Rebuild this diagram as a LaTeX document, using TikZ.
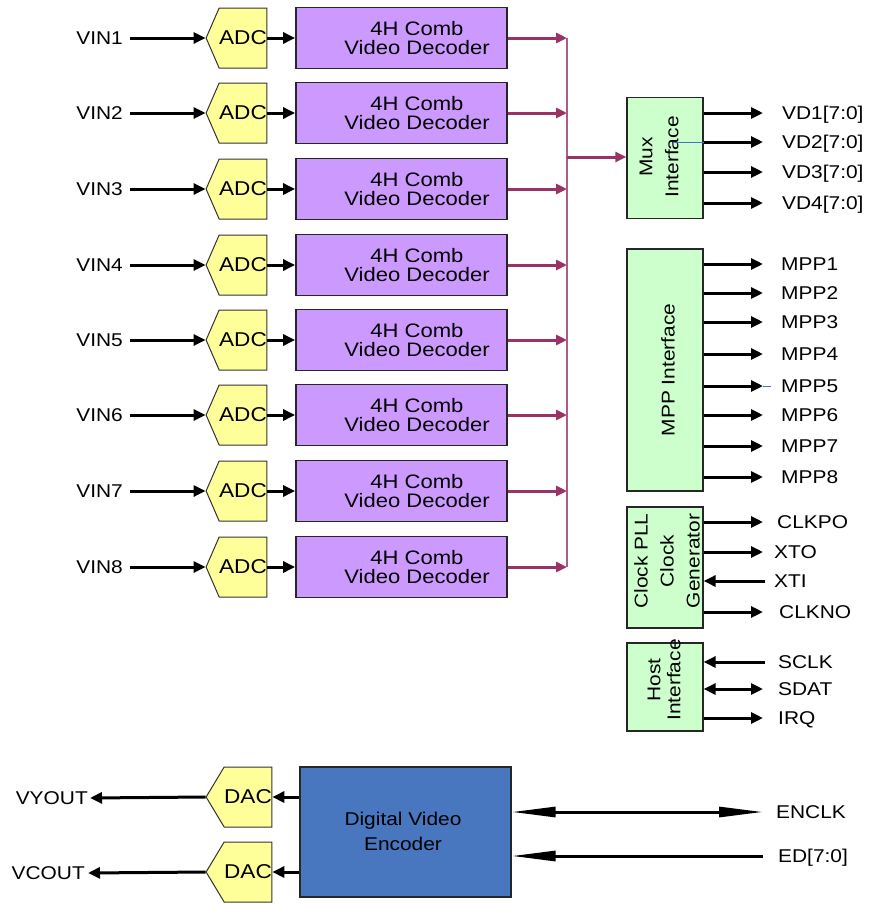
\documentclass[tikz,border=0pt]{standalone}
\usepackage{fontspec}
\setmainfont{Liberation Sans}[FakeStretch=1.13]
\usetikzlibrary{arrows.meta,shapes.symbols}
\definecolor{decpurple}{HTML}{CC99FF}
\definecolor{adcyellow}{HTML}{FFFF99}
\definecolor{ifgreen}{HTML}{CCFFCC}
\definecolor{encblue}{HTML}{4876BF}
\definecolor{mag}{HTML}{993366}
\definecolor{artblue}{HTML}{4472C4}
\begin{document}
\begin{tikzpicture}[x=1pt,y=-1pt,font=\fontsize{18.5}{19}\selectfont,
  tipb/.tip={Triangle[length=12pt,width=11pt]},
  tipl/.tip={Triangle[length=44pt,width=10pt]},
  arr/.style={line width=3pt,-tipb},
  dblarr/.style={line width=3pt,tipb-tipb},
  magarr/.style={draw=mag,line width=3pt,-{Triangle[length=11pt,width=10pt]}},
  magline/.style={draw=mag!80,line width=1.5pt},
  longarr/.style={line width=3pt,-tipl},
  longdbl/.style={line width=3pt,tipl-tipl},
  artline/.style={draw=artblue,line width=0.8pt},
  conv/.style={signal,signal to=west,draw=black!80,line width=1pt,fill=adcyellow,minimum width=59pt,minimum height=60pt,inner sep=0pt,font=\fontsize{20}{20}\selectfont},
  decbox/.style={draw=black!85,line width=1.8pt,fill=decpurple,minimum width=211pt,minimum height=61pt,inner sep=0pt},
  gbox/.style={draw=black!85,line width=1.3pt,fill=ifgreen,inner sep=0pt},
  lbl/.style={anchor=west,inner ysep=0pt,text height=13.3pt,text depth=0pt},
  lbll/.style={anchor=east,inner ysep=0pt,text height=13.3pt,text depth=0pt},
  rottext/.style={rotate=90,align=center,inner sep=0pt}]
\useasboundingbox (0,0) rectangle (869,903);

% ---- input rows ----
\foreach \i/\y in {1/38,2/113,3/189,4/265,5/340,6/415,7/491,8/567}{
  \node[lbll,inner xsep=7pt] (vin\i) at (130,\y) {VIN\i};
  \node[conv,signal pointer angle=133] (adc\i) at (243,\y) {ADC};
  \node[decbox] (dec\i) at (401.5,\y) {};
  \node[align=center,inner sep=0pt,font=\fontsize{19.5}{19.5}\selectfont] (dtxt\i) at (417,\y) {4H Comb\\Video Decoder};
  \coordinate (b\i) at (567,\y);
  \draw[arr] (vin\i.east) -- (adc\i.west);
  \draw[arr] (adc\i.east) -- (dec\i.west);
  \draw[magarr] (dec\i.east) -- (b\i);
}
\draw[magline] (b1) -- (b8);

% ---- Mux interface ----
\node[gbox,minimum width=76pt,minimum height=121pt] (mux) at (665,158) {};
\node[rottext,font=\fontsize{18.5}{26}\selectfont] (muxt) at (659,157) {Mux\\Interface};
\coordinate (bm) at (567,157);
\draw[magarr] (bm) -- (mux.west |- bm);
\foreach \j/\y/\t in {1/113/{VD1[7:0]},2/142/{VD2[7:0]},3/172/{VD3[7:0]},4/203/{VD4[7:0]}}{
  \node[lbl,inner xsep=19pt] (vd\j) at (763,\y) {\t};
  \draw[arr] (mux.east |- vd\j.west) -- (vd\j.west);
}
\coordinate (art1) at (673,142);
\draw[artline] (art1) -- (mux.east |- art1);

% ---- MPP interface ----
\node[gbox,minimum width=76pt,minimum height=242pt] (mpp) at (665,370) {};
\node[rottext] (mppt) at (668,370) {MPP Interface};
\foreach \j/\y in {1/264,2/293,3/322,4/354,5/386,6/415,7/446,8/477}{
  \node[lbl,inner xsep=18pt] (mpp\j) at (763,\y) {MPP\j};
  \draw[arr] (mpp.east |- mpp\j.west) -- (mpp\j.west);
}
\coordinate (art2) at (771,386);
\draw[artline] (mpp5.west) -- (art2);

% ---- Clock ----
\node[gbox,minimum width=76pt,minimum height=121pt] (clk) at (665,567.5) {};
\node[rottext,font=\fontsize{18.5}{26}\selectfont] (clkt) at (667,561) {Clock PLL\\Clock\\Generator};
\node[lbl,inner xsep=14pt] (clkpo) at (763,522) {CLKPO};
\node[lbl,inner xsep=11pt] (xto) at (763,552) {XTO};
\node[lbl,inner xsep=9pt] (xti) at (765,581) {XTI};
\node[lbl,inner xsep=16pt] (clkno) at (763,612) {CLKNO};
\draw[arr] (clk.east |- clkpo.west) -- (clkpo.west);
\draw[arr] (clk.east |- xto.west) -- (xto.west);
\draw[arr] (xti.west) -- (clk.east |- xti.west);
\draw[arr] (clk.east |- clkno.west) -- (clkno.west);

% ---- Host ----
\node[gbox,minimum width=76pt,minimum height=88pt] (host) at (665,687) {};
\node[rottext,font=\fontsize{18.5}{20}\selectfont] (hostt) at (664,680) {Host\\Interface};
\node[lbl,inner xsep=13pt] (sclk) at (765,662) {SCLK};
\node[lbl,inner xsep=15pt] (sdat) at (763,689) {SDAT};
\node[lbl,inner xsep=15pt] (irq) at (763,718) {IRQ};
\draw[arr] (sclk.west) -- (host.east |- sclk.west);
\draw[dblarr] (host.east |- sdat.west) -- (sdat.west);
\draw[arr] (host.east |- irq.west) -- (irq.west);

% ---- Encoder ----
\node[draw=black!85,line width=1.3pt,fill=encblue,minimum width=211pt,minimum height=130pt,inner sep=0pt] (enc) at (405.5,832) {};
\node[align=center,inner sep=0pt,font=\fontsize{18.5}{25}\selectfont] (enct) at (403,831) {Digital Video\\Encoder};
\node[conv,signal pointer angle=118] (dac1) at (248,797) {DAC};
\node[conv,signal pointer angle=118] (dac2) at (248,872) {DAC};
\node[lbll,inner xsep=2pt] (vyout) at (90,798) {VYOUT};
\node[lbll,inner xsep=3pt] (vcout) at (88,873) {VCOUT};
\draw[arr] (enc.west |- dac1.east) -- (dac1.east);
\draw[arr] (enc.west |- dac2.east) -- (dac2.east);
\draw[arr] (dac1.west) -- (vyout.east);
\draw[arr] (dac2.west) -- (vcout.east);
\node[lbl,inner xsep=13pt] (enclk) at (763,812) {ENCLK};
\node[lbl,inner xsep=15pt] (ed) at (763,856) {ED[7:0]};
\draw[longdbl] (enc.east |- enclk.west) -- (enclk.west);
\draw[longarr] (ed.west) -- (enc.east |- ed.west);
\end{tikzpicture}
\end{document}
